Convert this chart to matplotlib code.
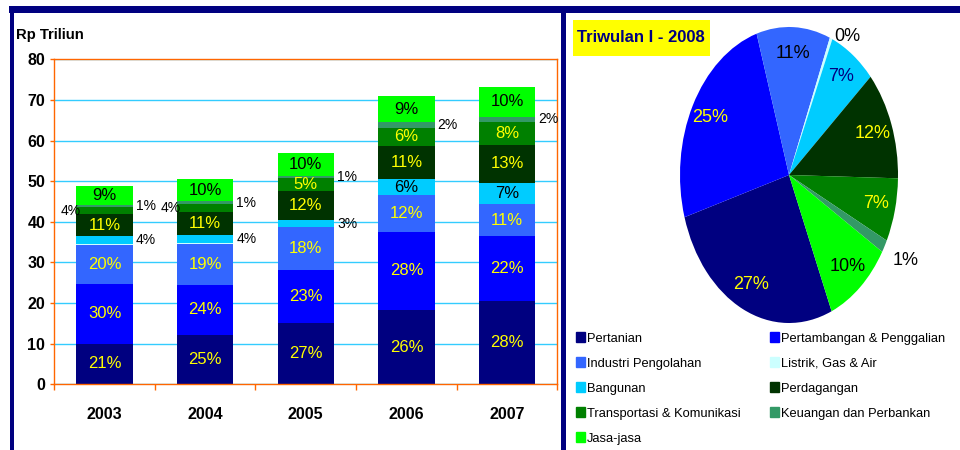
import numpy as np
import matplotlib.pyplot as plt
from matplotlib.patches import Rectangle

plt.rcParams['font.family'] = ['Liberation Sans', 'DejaVu Sans']

years = ['2003', '2004', '2005', '2006', '2007']
sectors = ['Pertanian', 'Pertambangan & Penggalian', 'Industri Pengolahan',
           'Listrik, Gas & Air', 'Bangunan', 'Perdagangan',
           'Transportasi & Komunikasi', 'Keuangan dan Perbankan', 'Jasa-jasa']
colors = ['#000080', '#0000FF', '#3366FF', '#CCFFFF', '#00CCFF',
          '#003300', '#008000', '#339966', '#00FF00']

# Rp triliun per sektor, 2003-2007
pertanian = [10.0, 12.1, 15.1, 18.3, 20.4]
pertambangan = [14.8, 12.4, 13.1, 19.3, 16.0]
industri = [9.6, 10.1, 10.4, 8.9, 7.9]
listrik = [0.1, 0.1, 0.1, 0.1, 0.1]
bangunan = [2.0, 2.0, 1.7, 3.9, 5.2]
perdagangan = [5.4, 5.7, 7.2, 8.2, 9.3]
transportasi = [1.7, 1.9, 3.2, 4.4, 5.7]
keuangan = [0.5, 0.7, 0.5, 1.4, 1.3]
jasa = [4.6, 5.5, 5.7, 6.5, 7.4]
bar_values = [pertanian, pertambangan, industri, listrik, bangunan,
              perdagangan, transportasi, keuangan, jasa]

# persentase yang tertulis di batang
pct_pertanian = [21, 25, 27, 26, 28]
pct_pertambangan = [30, 24, 23, 28, 22]
pct_industri = [20, 19, 18, 12, 11]
pct_listrik = [None, None, None, None, None]
pct_bangunan = [4, 4, 3, 6, 7]
pct_perdagangan = [11, 11, 12, 11, 13]
pct_transportasi = [4, 4, 5, 6, 8]
pct_keuangan = [1, 1, 1, 2, 2]
pct_jasa = [9, 10, 10, 9, 10]
bar_pcts = [pct_pertanian, pct_pertambangan, pct_industri, pct_listrik,
            pct_bangunan, pct_perdagangan, pct_transportasi, pct_keuangan,
            pct_jasa]

# Triwulan I - 2008
pie_values = [27, 25, 11, 0.4, 7, 12, 7, 1.4, 10]

bar_text_colors = ['#FFFF00', '#FFFF00', '#FFFF00', 'black', 'black',
                   '#FFFF00', '#FFFF00', 'black', 'black']
pie_text_colors = ['#FFFF00', '#FFFF00', 'black', 'black', '#000080',
                   '#FFFF00', '#FFFF00', 'black', 'black']

W, H = 960, 450
navy = '#000080'
orange = '#FF6600'


def fx(x):
    return x / W


def fy(y):
    return 1 - y / H


fig = plt.figure(figsize=(9.6, 4.5), dpi=100)

# bingkai
fig.add_artist(Rectangle((fx(9), fy(12.5)), fx(951), 6.5 / H, color=navy, lw=0))
fig.add_artist(Rectangle((fx(9.5), 0), fx(4.5), fy(6), color=navy, lw=0))
fig.add_artist(Rectangle((fx(561), 0), fx(5), fy(6), color=navy, lw=0))

# grafik batang
ax = fig.add_axes([fx(54.3), fy(384.3), fx(503), 325 / H])
x = np.arange(len(years))
width = 0.56
bottom = np.zeros(len(years))
for i, vals in enumerate(bar_values):
    ax.bar(x, vals, width, bottom=bottom, color=colors[i], linewidth=0, zorder=2)
    for j in range(len(years)):
        p = bar_pcts[i][j]
        if p is None:
            continue
        mid = bottom[j] + vals[j] / 2
        if vals[j] < 2.5:
            if i == 6:
                ax.text(j - width / 2 + 0.04, mid, f'{p}%', ha='right', va='center',
                        fontsize=10, color='black', zorder=3)
            else:
                ax.text(j + width / 2 + 0.03, mid, f'{p}%', ha='left', va='center',
                        fontsize=10, color='black', zorder=3)
        else:
            ax.text(j, mid, f'{p}%', ha='center', va='center', fontsize=12,
                    color=bar_text_colors[i], zorder=3)
    bottom += np.array(vals)

ax.set_xlim(-0.5, len(years) - 0.5)
ax.set_ylim(0, 80)
ax.set_yticks(range(0, 81, 10))
ax.set_yticklabels([str(v) for v in range(0, 81, 10)], fontweight='bold', fontsize=11.5)
ax.set_xticks(np.arange(-0.5, len(years)), labels=[''] * (len(years) + 1))
ax.set_xticks(x, labels=years, minor=True, fontweight='bold', fontsize=11.5)
ax.tick_params(axis='y', length=3, width=1, color=orange, pad=3.5)
ax.tick_params(axis='x', which='major', length=4.3, width=1, color=orange)
ax.tick_params(axis='x', which='minor', length=0, pad=16.5)
ax.yaxis.grid(True, color='#33CCFF', lw=1, zorder=0)
ax.set_axisbelow(True)
for s in ax.spines.values():
    s.set_color(orange)
    s.set_linewidth(1)

fig.text(fx(16.5), fy(35), 'Rp Triliun', fontsize=10.7, fontweight='bold',
         ha='left', va='center')

# grafik pai
ax2 = fig.add_axes([fx(789 - 1.35 * 109), fy(175 + 1.1 * 148), fx(2.7 * 109), 2.2 * 148 / H])
wedges, _ = ax2.pie(pie_values, colors=colors, startangle=-67, counterclock=False,
                    wedgeprops=dict(linewidth=0))
ax2.set_aspect('auto')
ax2.set_xlim(-1.35, 1.35)
ax2.set_ylim(-1.1, 1.1)
ax2.axis('off')
total = sum(pie_values)
for w, v, c in zip(wedges, pie_values, pie_text_colors):
    ang = np.deg2rad((w.theta1 + w.theta2) / 2)
    pct = v / total * 100
    if pct < 2:
        r, ha, va = 1.08, 'left', 'top'
    else:
        r, ha, va = 0.82, 'center', 'center'
    ax2.text(r * np.cos(ang), r * np.sin(ang), f'{pct:.0f}%', ha=ha, va=va,
             fontsize=13, color=c)

fig.add_artist(Rectangle((fx(572.7), fy(55.7)), fx(137.3), 35.7 / H,
                         color='#FFFF00', lw=0))
fig.text(fx(577), fy(37), 'Triwulan I - 2008', fontsize=12, fontweight='bold',
         color=navy, ha='left', va='center')

# legenda, urutan baris
order = [0, 2, 4, 6, 8, 1, 3, 5, 7]
handles = [Rectangle((0, 0), 1, 1, color=colors[k]) for k in order]
fig.legend(handles, [sectors[k] for k in order], ncol=2, frameon=False,
           loc='upper left', bbox_to_anchor=(fx(576), fy(332)), fontsize=9.3,
           handlelength=0.7, handleheight=0.85, handletextpad=0.15,
           labelspacing=0.96, columnspacing=2.25, borderpad=0, borderaxespad=0)

fig.savefig('out.png', dpi=100)
